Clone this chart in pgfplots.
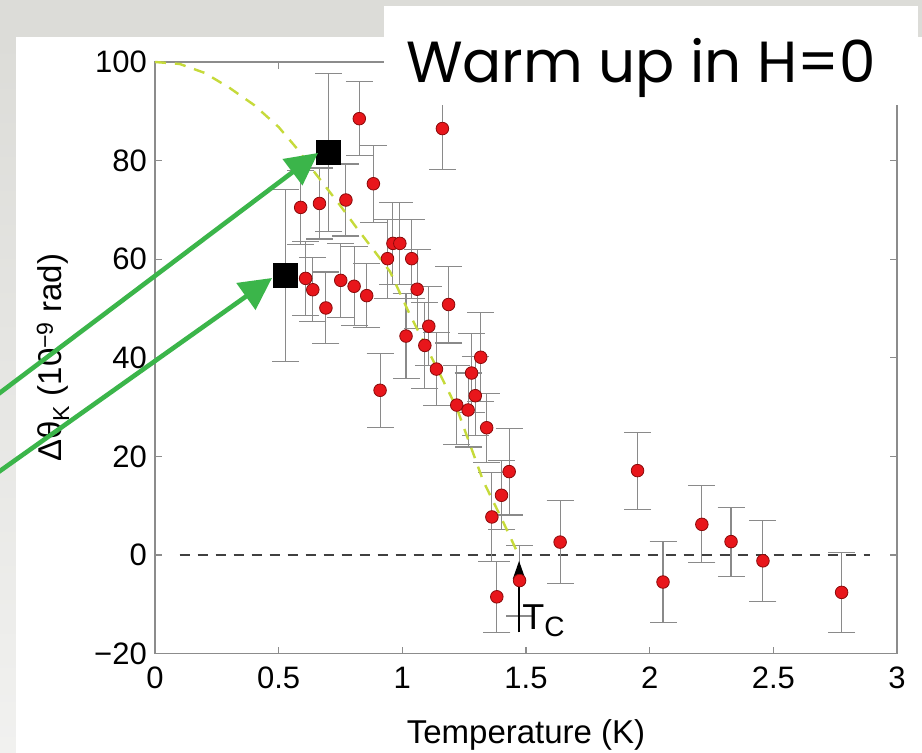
\documentclass[border=0pt]{standalone}
\usepackage{pgfplots}
\pgfplotsset{compat=1.18}
\usepackage{pgfplotstable}
\usetikzlibrary{arrows.meta}
\usepackage{fontspec}
\setmainfont{Liberation Sans}
\newfontfamily\comic{Poppins}
\definecolor{bggray}{HTML}{DCDCD8}
\definecolor{axgray}{HTML}{8C8C8C}
\definecolor{ebgray}{HTML}{8A8A8A}
\definecolor{ptred}{HTML}{E8161B}
\definecolor{ptdark}{HTML}{8A0A0A}
\definecolor{curvegreen}{HTML}{C6DA3A}
\definecolor{arrowgreen}{HTML}{3BB54A}

\pgfplotstableread{
T v e
0.528 56.7 17.4
0.589 70.5 7.5
0.609 56.1 7.5
0.638 53.8 6.5
0.665 71.3 7.2
0.691 50.1 7.3
0.702 81.6 16.0
0.751 55.7 7.5
0.772 72.0 7.3
0.805 54.5 8.0
0.826 88.5 7.5
0.856 52.6 6.5
0.883 75.3 7.8
0.910 33.4 7.5
0.940 60.1 8.0
0.962 63.2 8.3
0.990 63.2 8.3
1.015 44.4 8.7
1.038 60.1 8.0
1.060 53.9 8.0
1.091 42.5 8.8
1.107 46.4 8.0
1.138 37.7 7.4
1.162 86.5 8.3
1.187 50.8 7.8
1.220 30.4 8.0
1.266 29.4 7.5
1.280 36.9 8.0
1.295 32.3 8.0
1.317 40.1 9.0
1.341 25.8 7.0
1.362 7.7 9.0
1.382 -8.5 7.2
1.401 12.1 7.0
1.432 16.9 8.8
1.474 -5.2 7.2
1.638 2.6 8.4
1.951 17.1 7.8
2.054 -5.5 8.2
2.211 6.2 7.8
2.329 2.7 7.0
2.458 -1.2 8.2
2.776 -7.6 8.1
}\kerrdata

\pgfplotstableread{
T v
0.000 100.0
0.100 99.6
0.200 97.8
0.300 94.8
0.400 91.3
0.500 86.8
0.573 82.5
0.650 77.3
0.750 70.8
0.816 66.3
0.950 57.5
1.030 48.8
1.139 38.0
1.220 29.8
1.327 15.0
1.400 7.5
1.470 0.0
}\fitcurve

\begin{document}
\begin{tikzpicture}
\fill[bggray] (-155pt,-99.5pt) rectangle (767pt,653.5pt);
\shade[top color=bggray, bottom color=white!60!bggray] (-155pt,-99.5pt) rectangle (-139pt,616.5pt);
\fill[white] (-139pt,-99.5pt) rectangle (767pt,616.5pt);
\begin{axis}[
  at={(0pt,0pt)}, anchor=south west,
  scale only axis, width=742pt, height=591.5pt,
  xmin=0, xmax=3, ymin=-20, ymax=100,
  xtick={0,0.5,1,1.5,2,2.5,3},
  xticklabels={0,0.5,1,1.5,2,2.5,3},
  ytick={-20,0,20,40,60,80,100},
  yticklabels={−20,0,20,40,60,80,100},
  axis line style={draw=axgray, line width=1.2pt},
  tick style={draw=axgray, line width=1.2pt},
  major tick length=7pt,
  tick align=inside,
  ticklabel style={font=\fontsize{31}{31}\selectfont, inner sep=0pt, text=black},
  xticklabel style={yshift=-13pt},
  yticklabel style={xshift=-8pt},
  xlabel={Temperature (K)},
  ylabel={Δθ\textsubscript{K} (10\textsuperscript{−9} rad)},
  label style={font=\fontsize{33}{33}\selectfont},
  xlabel style={at={(axis description cs:0.5,-0.138)}, anchor=center},
  ylabel style={at={(axis description cs:-0.1375,0.5)}, anchor=center},
  clip=false,
]
\addplot[draw=black!75, dashed, line width=1.2pt, dash pattern=on 10pt off 8pt] coordinates {(0.1,0) (2.89,0)};
\addplot[only marks, mark=*, mark size=6.3pt,
  mark options={fill=ptred, draw=ptdark, line width=0.8pt},
  error bars/.cd, y dir=both, y explicit,
  error bar style={draw=ebgray, line width=1.1pt},
  error mark options={draw=ebgray, line width=1.1pt, mark size=13.5pt, rotate=90}]
  table[x=T, y=v, y error=e] {\kerrdata};
\addplot[draw=curvegreen, line width=2.4pt, dash pattern=on 11pt off 9pt] table[x=T, y=v] {\fitcurve};
\addplot[draw=black, line width=2pt, -{Triangle[length=18pt,width=12pt]}] coordinates {(1.472,-15.7) (1.472,-1.2)};
\node[anchor=base west, inner sep=0pt] at (axis cs:1.485,-15.2) {\fontsize{36}{36}\selectfont T\raisebox{-7pt}{\fontsize{28}{28}\selectfont C}};
\addplot[only marks, mark=square*, mark size=12pt, mark options={fill=black, draw=black}] coordinates {(0.702,81.6) (0.528,56.7)};
\end{axis}
\draw[arrowgreen, line width=4.6pt, -{Triangle[length=32pt,width=32pt]}] (-160pt,257pt) -- (163pt,500.5pt);
\draw[arrowgreen, line width=4.6pt, -{Triangle[length=32pt,width=32pt]}] (-160pt,179pt) -- (117pt,375.5pt);
\fill[white] (229pt,548.5pt) rectangle (763pt,647.5pt);
\node[anchor=base, inner sep=0pt] at (486pt,570.5pt) {\comic\fontsize{58}{58}\selectfont Warm up in H=0};
\pgfresetboundingbox
\path[use as bounding box] (-155pt,-99.5pt) rectangle (767pt,653.5pt);
\end{tikzpicture}
\end{document}
